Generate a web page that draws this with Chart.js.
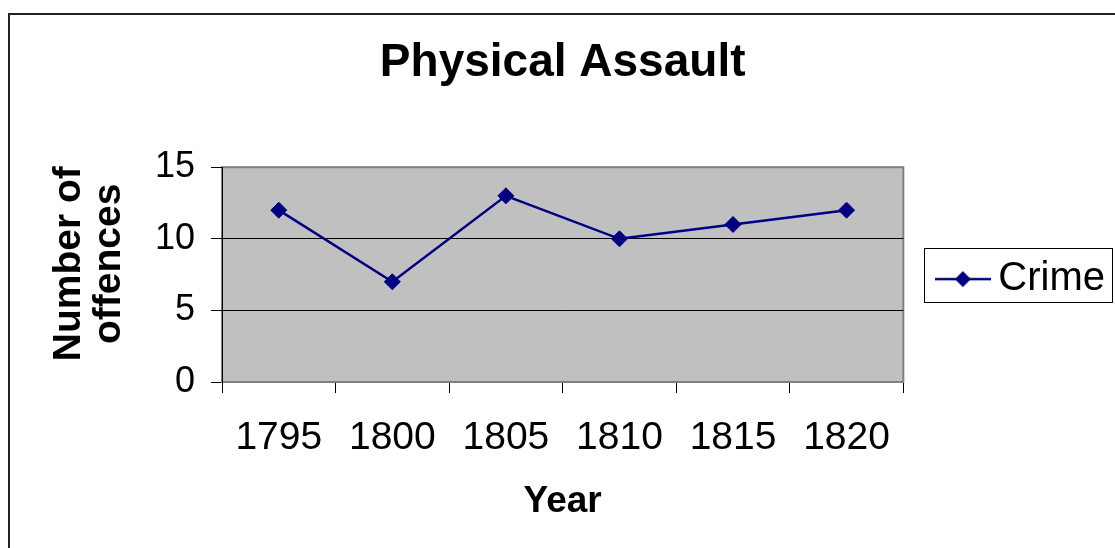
<!DOCTYPE html>
<html>
<head>
<meta charset="utf-8">
<script src="https://cdn.jsdelivr.net/npm/chart.js@4/dist/chart.umd.min.js"></script>
<style>
  body { margin: 0; background: #fff; }
  #wrap { width: 1115px; height: 548px; position: relative; }
</style>
</head>
<body>
<div id="wrap"><canvas id="assaultChart"></canvas></div>
<script>
// data
let years = ['1795', '1800', '1805', '1810', '1815', '1820'];
let crime = [12, 7, 13, 10, 11, 12];
let yTickValues = [0, 5, 10, 15];

const FONT = "'Liberation Sans', Arial, sans-serif";
const NAVY = '#000080';

// little line + diamond picture for the legend entry
let legendMark = document.createElement('canvas');
legendMark.width = 56;
legendMark.height = 20;
let lc = legendMark.getContext('2d');
lc.strokeStyle = NAVY;
lc.lineWidth = 2.5;
lc.beginPath();
lc.moveTo(0, 10);
lc.lineTo(56, 10);
lc.stroke();
lc.fillStyle = NAVY;
lc.beginPath();
lc.moveTo(28 - 8, 10);
lc.lineTo(28, 2);
lc.lineTo(28 + 8, 10);
lc.lineTo(28, 18);
lc.closePath();
lc.fill();

// grey plot area, frame, outer border and legend box
const framePlugin = {
  id: 'frame',
  beforeDraw(chart) {
    const c = chart.ctx;
    const a = chart.chartArea;
    c.save();
    c.fillStyle = '#fff';
    c.fillRect(0, 0, chart.width, chart.height);
    c.fillStyle = '#222';
    c.fillRect(8, 13, 2, chart.height);
    c.fillRect(8, 13, chart.width, 2);
    c.fillStyle = '#C0C0C0';
    c.fillRect(a.left, a.top, a.right - a.left, a.bottom - a.top);
    c.strokeStyle = '#808080';
    c.lineWidth = 2;
    c.strokeRect(a.left, a.top, a.right - a.left, a.bottom - a.top);
    c.restore();
  },
  afterDraw(chart) {
    const hb = chart.legend.legendHitBoxes[0];
    if (!hb) return;
    const c = chart.ctx;
    c.save();
    c.strokeStyle = '#000';
    c.lineWidth = 1;
    const cy = hb.top + hb.height / 2;
    // box sits a little higher than the (lowered) entry
    c.strokeRect(Math.round(hb.left - 23) + 0.5, Math.round(cy - 31) + 0.5, 188, 54);
    c.restore();
  }
};

let ctx = document.getElementById('assaultChart').getContext('2d');
new Chart(ctx, {
  type: 'line',
  data: {
    labels: years,
    datasets: [{
      label: 'Crime',
      data: crime,
      borderColor: NAVY,
      backgroundColor: NAVY,
      borderWidth: 2.5,
      tension: 0,
      pointStyle: 'rectRot',
      pointRadius: 8,
      pointHoverRadius: 8,
      pointBackgroundColor: NAVY,
      pointBorderColor: NAVY,
      pointBorderWidth: 1
    }]
  },
  options: {
    responsive: true,
    maintainAspectRatio: false,
    animation: false,
    layout: { padding: { left: 0, right: 0, top: 0, bottom: 0 } },
    plugins: {
      title: {
        display: true,
        fullSize: false,
        text: 'Physical Assault',
        color: '#000',
        font: { family: FONT, size: 46, weight: 'bold' },
        padding: { top: 36, bottom: 76 }
      },
      legend: {
        position: 'right',
        fullSize: false,
        // empty title only pushes the entry down a few px
        title: { display: true, text: '', padding: 0, font: { size: 9, lineHeight: 1 } },
        labels: {
          usePointStyle: true,
          pointStyle: legendMark,
          pointStyleWidth: 31,
          padding: 44,
          color: '#000',
          font: { family: FONT, size: 40 }
        }
      },
      tooltip: { enabled: false }
    },
    scales: {
      x: {
        offset: true,
        grid: {
          offset: true,
          drawOnChartArea: false,
          drawTicks: true,
          tickLength: 11,
          tickColor: '#000'
        },
        border: { display: true, color: '#808080', width: 2 },
        ticks: {
          color: '#000',
          padding: 22,
          maxRotation: 0,
          font: { family: FONT, size: 39 }
        },
        title: {
          display: true,
          text: 'Year',
          color: '#000',
          font: { family: FONT, size: 37, weight: 'bold' },
          padding: { top: 0, bottom: 24 }
        },
        afterFit(scale) { scale.height = 166; }
      },
      y: {
        min: 0,
        max: 15,
        afterBuildTicks(scale) {
          scale.ticks = yTickValues.map(v => ({ value: v }));
        },
        grid: {
          color: c => (c.tick && (c.tick.value === 0 || c.tick.value === 15)) ? 'rgba(0,0,0,0)' : '#000',
          tickColor: '#000',
          tickLength: 11,
          lineWidth: 1
        },
        border: { display: true, color: '#000', width: 1 },
        ticks: {
          color: '#000',
          padding: 16,
          font: { family: FONT, size: 36 }
        },
        title: {
          display: true,
          text: ['  Number of', '  offences'],
          color: '#000',
          font: { family: FONT, size: 39, weight: 'bold', lineHeight: 1.03 },
          padding: { top: 49, bottom: 0 }
        },
        afterFit(scale) { scale.width = 222; }
      }
    }
  },
  plugins: [framePlugin]
});
</script>
</body>
</html>
